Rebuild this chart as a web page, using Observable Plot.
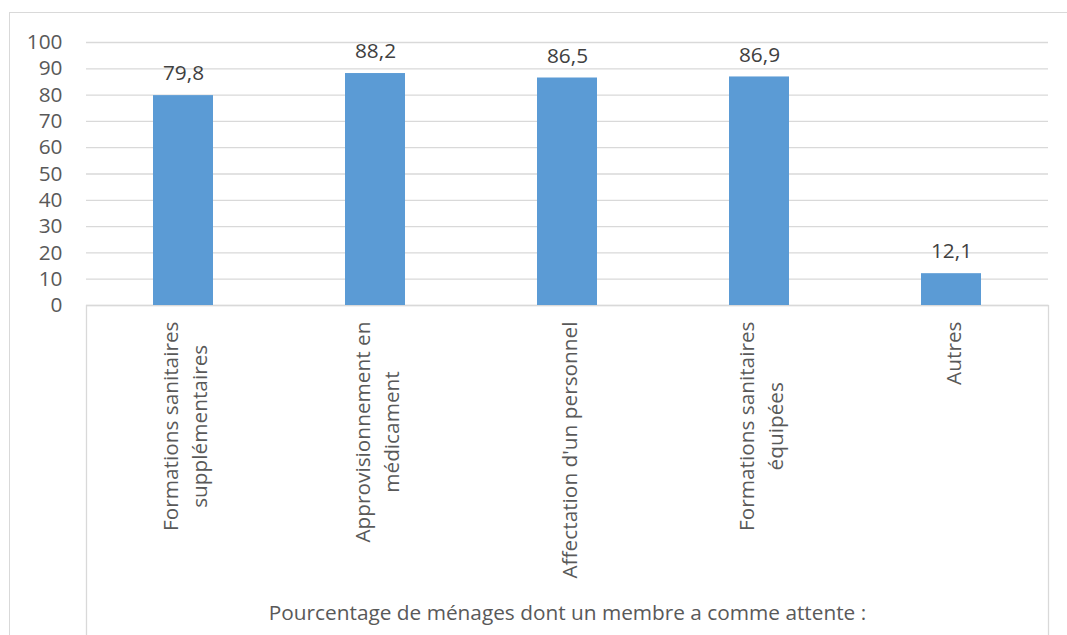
<!DOCTYPE html>
<html>
<head>
<meta charset="utf-8">
<script src="https://cdn.jsdelivr.net/npm/d3@7"></script>
<script src="https://cdn.jsdelivr.net/npm/@observablehq/plot@0.6"></script>
<style>
  html, body { margin: 0; padding: 0; background: #fff; overflow: hidden; }
  #wrap { position: relative; width: 1067px; height: 635px; }
  #border { position: absolute; left: 9px; top: 12px; width: 2000px; height: 2000px;
            border: 1.5px solid #d9d9d9; box-sizing: border-box; pointer-events: none; }
  #chart { position: absolute; left: 0; top: 0; }
</style>
</head>
<body>
<div id="wrap"><div id="border"></div><div id="chart"></div></div>
<script>
const categories = [
  "Formations sanitaires\nsupplémentaires",
  "Approvisionnement en\nmédicament",
  "Affectation d'un personnel",
  "Formations sanitaires\néquipées",
  "Autres"
];
const values = [79.8, 88.2, 86.5, 86.9, 12.1];
const yTicks = [0, 10, 20, 30, 40, 50, 60, 70, 80, 90, 100];
const xTitle = "Pourcentage de ménages dont un membre a comme attente :";

const data = categories.map((c, i) => ({category: c, value: values[i]}));
const fr = d3.formatLocale({decimal: ",", thousands: " ", grouping: [3], currency: ["", " €"]});
const fmt = fr.format(".1f");
const FONT = "'Open Sans', 'Noto Sans', sans-serif";
const FS = 20.8;

const chart = Plot.plot({
  width: 1067,
  height: 635,
  marginLeft: 86,
  marginRight: 19,
  marginTop: 42,
  marginBottom: 330,
  style: {fontFamily: FONT, fontSize: FS + "px", color: "#595959", background: "transparent"},
  x: {domain: categories, paddingInner: 0.688, paddingOuter: 0.344},
  y: {domain: [0, 100]},
  marks: [
    Plot.gridY(yTicks, {stroke: "#d9d9d9", strokeOpacity: 1, strokeWidth: 1.3}),
    Plot.frame({stroke: "#d9d9d9", strokeWidth: 1.3, insetTop: 263, insetBottom: -345}),
    Plot.barY(data, {x: "category", y: "value", fill: "#5b9bd5"}),
    Plot.text(data, {x: "category", y: "value", text: d => fmt(d.value), dy: -22,
      fontSize: FS, fill: "#404040", fontFamily: FONT}),
    Plot.axisY(yTicks, {tickSize: 0, tickPadding: 24, fontSize: FS, fill: "#595959",
      label: null, tickFormat: d => String(d)}),
    Plot.axisX({tickSize: 0, tickPadding: 16, rotate: -90, textAnchor: "end",
      lineAnchor: "middle", lineHeight: 1.36, fontSize: FS, fill: "#595959",
      label: xTitle, labelAnchor: "center", labelOffset: 314})
  ]
});
document.getElementById("chart").appendChild(chart);

// Center the lines of multi-line rotated category labels (Excel style)
chart.querySelectorAll("g[aria-label='x-axis tick label'] text").forEach(t => {
  const spans = Array.from(t.querySelectorAll("tspan"));
  if (spans.length < 2) return;
  const lens = spans.map(s => s.getComputedTextLength());
  const max = Math.max(...lens);
  spans.forEach((s, i) => s.setAttribute("x", -(max - lens[i]) / 2));
});
</script>
</body>
</html>
